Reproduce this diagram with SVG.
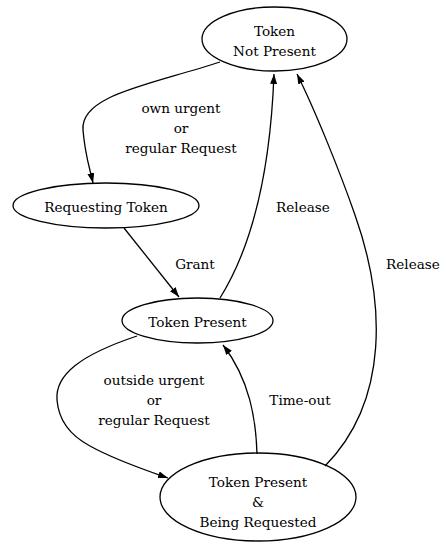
<svg xmlns="http://www.w3.org/2000/svg" width="443" height="546" viewBox="0 0 443 546">
<style>
.n ellipse{fill:none;stroke:#000;stroke-width:1.3}
.e path{fill:none;stroke:#000;stroke-width:1.3}
text{font-family:"DejaVu Serif","Liberation Serif",serif;font-size:13.6px;text-anchor:middle;fill:#000}
</style>
<defs>
<marker id="a" markerUnits="userSpaceOnUse" markerWidth="11" markerHeight="8" refX="10" refY="3.5" orient="auto">
<path d="M0,0 L10,3.5 L0,7 z" fill="#000"/>
</marker>
</defs>
<rect width="443" height="546" fill="#fff"/>
<g id="tnp" class="n">
<ellipse cx="274.5" cy="39" rx="72.5" ry="32"/>
<text x="274.5" y="36">Token</text>
<text x="274.5" y="56">Not Present</text>
</g>
<g id="rt" class="n">
<ellipse cx="106" cy="205.5" rx="93" ry="22.5"/>
<text x="106" y="212">Requesting Token</text>
</g>
<g id="tp" class="n">
<ellipse cx="197.5" cy="320.5" rx="75.5" ry="22.5"/>
<text x="197.5" y="327">Token Present</text>
</g>
<g id="tpbr" class="n">
<ellipse cx="258" cy="497" rx="98" ry="44"/>
<text x="258" y="487">Token Present</text>
<text x="258" y="507">&amp;</text>
<text x="258" y="527">Being Requested</text>
</g>
<g id="edges" class="e">
<path d="M220,62 C150,85 80,95 83,130 C85,155 89,165 93,183" marker-end="url(#a)"/>
<path d="M124,228 L179,297" marker-end="url(#a)"/>
<path d="M220,298 C250,250 270,180 274,74" marker-end="url(#a)"/>
<path d="M325,466 C390,400 385,300 355,215 C340,172 315,110 297,74" marker-end="url(#a)"/>
<path d="M137,336 C80,355 55,375 57,400 C59,425 75,438 90,446 C115,460 145,470 168,478" marker-end="url(#a)"/>
<path d="M257,454 C256,420 250,380 223,345" marker-end="url(#a)"/>
</g>
<g id="labels">
<text x="181" y="113">own urgent</text>
<text x="181" y="133">or</text>
<text x="181" y="153">regular Request</text>
<text x="195" y="269">Grant</text>
<text x="303" y="212">Release</text>
<text x="413" y="269">Release</text>
<text x="154" y="385">outside urgent</text>
<text x="154" y="405">or</text>
<text x="154" y="425">regular Request</text>
<text x="300" y="405">Time-out</text>
</g>
</svg>
